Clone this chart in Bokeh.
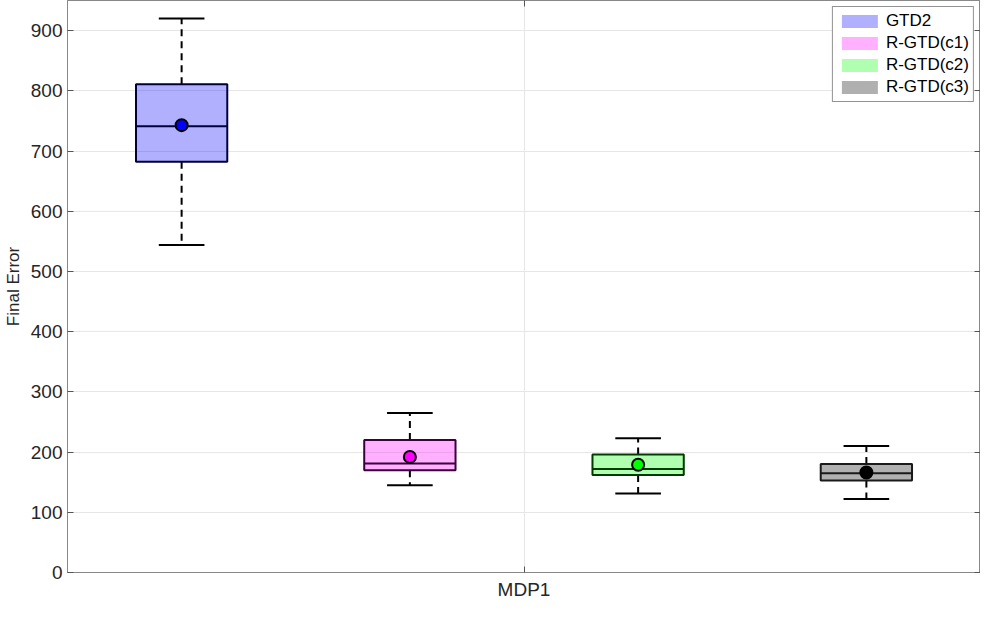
import numpy as np
from bokeh.plotting import figure
from bokeh.models import ColumnDataSource, FixedTicker, LinearAxis, Range1d, Legend, LegendItem
from bokeh.embed import file_html
from bokeh.resources import INLINE

# ---- data ----
groups = ["GTD2", "R-GTD(c1)", "R-GTD(c2)", "R-GTD(c3)"]
category = "MDP1"
upper_whisker = [920, 265, 223, 210]
q3 = [811, 220, 196, 180]
median = [741, 181, 172, 165]
q1 = [682, 170, 162, 153]
lower_whisker = [544, 145, 131, 122]
mean = [743, 192, 179, 166]
y_ticks = [0, 100, 200, 300, 400, 500, 600, 700, 800, 900]

base_colors = ["#0000ff", "#ff00ff", "#00ff00", "#000000"]
edge_colors = ["#00003c", "#3c003c", "#003c00", "#1a1a1a"]

n = len(groups)
slot = 1.0 / n
xpos = [slot * (i + 0.5) for i in range(n)]
box_half = 0.05
cap_half = 0.025

src = ColumnDataSource(dict(
    x=xpos, left=[x - box_half for x in xpos], right=[x + box_half for x in xpos],
    cl=[x - cap_half for x in xpos], cr=[x + cap_half for x in xpos],
    uw=upper_whisker, q3=q3, med=median, q1=q1, lw=lower_whisker, mean=mean,
    fill=base_colors, edge=edge_colors,
))

TXT = "#262626"
FONT = "Liberation Sans"

p = figure(width=980, height=602, output_backend="svg", toolbar_location=None,
           x_range=Range1d(0, 1), y_range=Range1d(0, 950),
           min_border_top=0, min_border_right=0, min_border_bottom=0, min_border_left=0)
p.outline_line_color = "#888888"
p.background_fill_color = "white"

# grids
p.xgrid.ticker = FixedTicker(ticks=[0.5])
p.ygrid.ticker = FixedTicker(ticks=y_ticks)
for g in (p.xgrid, p.ygrid):
    g.grid_line_color = "#e6e6e6"
    g.grid_line_width = 1

# axes
p.xaxis.ticker = FixedTicker(ticks=[0.5])
p.xaxis.major_label_overrides = {0.5: category}
p.yaxis.ticker = FixedTicker(ticks=y_ticks)
p.yaxis.axis_label = "Final Error"
for ax in (p.xaxis[0], p.yaxis[0]):
    ax.axis_line_color = "#888888"
    ax.major_tick_line_color = "#555555"
    ax.major_tick_in = 6
    ax.major_tick_out = 0
    ax.minor_tick_line_color = None
    ax.major_label_text_font = FONT
    ax.major_label_text_font_size = "19px"
    ax.major_label_text_color = TXT
    ax.axis_label_text_font = FONT
    ax.axis_label_text_font_size = "17px"
    ax.axis_label_text_font_style = "normal"
    ax.axis_label_text_color = TXT
p.xaxis.major_label_standoff = 6
p.xaxis.axis_label_standoff = 0
p.yaxis.major_label_standoff = 5
p.yaxis.axis_label_standoff = 5

# whiskers (dashed) and caps
p.segment(x0="x", y0="q3", x1="x", y1="uw", source=src, line_color="black", line_width=2, line_dash="7 5")
p.segment(x0="x", y0="q1", x1="x", y1="lw", source=src, line_color="black", line_width=2, line_dash="7 5")
p.segment(x0="cl", y0="uw", x1="cr", y1="uw", source=src, line_color="black", line_width=2)
p.segment(x0="cl", y0="lw", x1="cr", y1="lw", source=src, line_color="black", line_width=2)

# boxes
p.quad(left="left", right="right", bottom="q1", top="q3", source=src,
       fill_color="fill", fill_alpha=0.31, line_color="edge", line_width=2)
p.segment(x0="left", y0="med", x1="right", y1="med", source=src, line_color="edge", line_width=2)

# means
p.scatter(x="x", y="mean", source=src, marker="circle", size=12,
          fill_color="fill", line_color="black", line_width=2)

# legend (patches without outline)
items = []
for g, c in zip(groups, base_colors):
    r = p.quad(left=[np.nan], right=[np.nan], bottom=[np.nan], top=[np.nan],
               fill_color=c, fill_alpha=0.31, line_alpha=0)
    items.append(LegendItem(label=g, renderers=[r]))
legend = Legend(items=items, location="top_right")
legend.label_text_font = FONT
legend.label_text_font_size = "17px"
legend.label_text_color = "black"
legend.label_height = 20
legend.label_standoff = 4
legend.glyph_width = 45
legend.glyph_height = 16
legend.spacing = 2
legend.padding = 4
legend.margin = 6
legend.border_line_color = "#262626"
legend.border_line_width = 1
legend.background_fill_alpha = 1
p.add_layout(legend)

# box-style extra axes (top, right) with inward ticks, labels not drawn
def frame_axis(ticks):
    return LinearAxis(ticker=FixedTicker(ticks=ticks), major_label_text_font_size="1px",
                      major_label_text_color=None, major_label_standoff=0,
                      axis_label_standoff=0,
                      major_tick_in=6, major_tick_out=0,
                      minor_tick_line_color=None, axis_line_color="#888888",
                      major_tick_line_color="#555555")

p.add_layout(frame_axis([0.5]), "above")
p.add_layout(frame_axis(y_ticks), "right")

open("out.html", "w").write(file_html(p, INLINE))
